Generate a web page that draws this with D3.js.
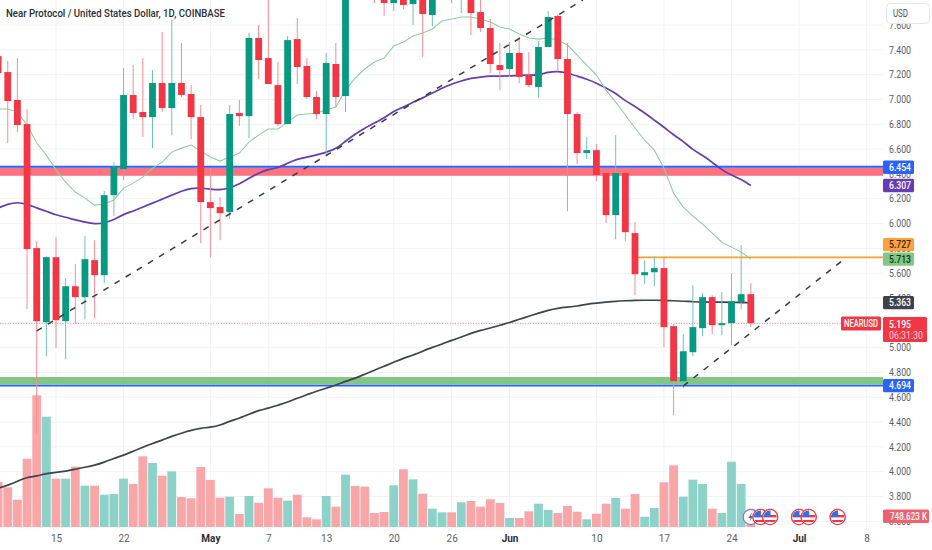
<!DOCTYPE html>
<html><head><meta charset="utf-8">
<script src="https://cdn.jsdelivr.net/npm/d3@7"></script>
<style>html,body{margin:0;padding:0;background:#fff}svg{display:block}text{font-family:Roboto,"Noto Sans",sans-serif}</style>
</head><body><svg id="c" width="932" height="550"></svg>
<script>
// Daily candles, first entry is 9 Apr (day -6 relative to 15 Apr)
const firstDay = -6;
const opens  = [7.350,7.221,6.996,6.802,5.802,5.205,5.729,5.213,5.495,5.407,5.705,5.584,6.229,6.439,7.036,6.899,6.858,7.133,6.931,7.133,7.044,6.858,6.173,6.133,6.092,6.891,6.866,7.496,7.334,7.116,6.802,7.487,7.270,7.020,6.883,7.286,7.028,8.286,8.125,8.004,7.883,7.778,7.923,7.770,7.883,7.681,7.883,7.963,7.826,7.826,7.705,7.576,7.278,7.246,7.375,7.197,7.100,7.423,7.673,7.326,6.883,6.568,6.592,6.407,6.068,6.407,5.923,5.584,5.608,5.641,5.173,4.729,4.963,5.157,5.407,5.181,5.197,5.366,5.431];
const highs  = [7.399,7.310,7.334,6.923,5.858,5.737,5.891,5.560,5.673,5.899,5.866,6.262,6.495,7.254,7.278,7.334,7.237,7.544,7.641,7.455,7.116,6.955,6.447,6.213,6.955,6.996,7.536,7.600,7.842,7.302,7.512,7.657,7.334,7.068,7.375,7.455,8.044,8.447,8.205,8.044,7.923,7.963,7.963,8.004,7.923,8.004,8.044,8.004,7.923,7.883,7.842,7.649,7.455,7.463,7.504,7.383,7.471,7.713,7.689,7.455,6.899,6.697,6.641,6.407,6.713,6.407,6.012,5.705,5.737,5.729,5.189,5.108,5.503,5.439,5.423,5.447,5.600,5.826,5.520];
const lows   = [7.157,6.649,6.737,5.310,4.310,4.931,4.995,4.907,5.197,5.229,5.237,5.520,6.060,6.350,6.842,6.697,6.608,6.899,6.713,7.020,6.681,5.842,5.729,5.866,6.036,6.786,6.689,7.165,7.125,6.786,6.802,7.125,7.004,6.842,6.552,6.939,6.899,7.883,7.842,7.778,7.673,7.713,7.729,7.600,7.342,7.592,7.842,7.778,7.697,7.520,7.544,7.213,7.076,7.181,7.133,7.100,7.012,7.423,7.237,6.100,6.479,6.520,6.342,6.004,5.874,5.858,5.423,5.512,5.495,5.003,4.455,4.673,4.931,5.092,5.108,5.100,5.020,5.310,5.165];
const closes = [7.213,6.987,6.794,5.794,5.213,5.729,5.221,5.495,5.407,5.713,5.584,6.229,6.455,7.036,6.891,6.858,7.133,6.931,7.133,7.036,6.858,6.173,6.125,6.084,6.883,6.866,7.496,7.318,7.125,6.802,7.479,7.262,7.020,6.883,7.294,7.020,7.963,7.963,7.883,7.842,7.778,7.923,7.762,7.963,7.689,7.963,8.004,7.842,7.883,7.697,7.576,7.286,7.237,7.375,7.181,7.116,7.423,7.665,7.326,6.883,6.568,6.592,6.391,6.068,6.407,5.931,5.592,5.608,5.641,5.165,4.729,4.971,5.165,5.407,5.181,5.197,5.374,5.431,5.197];
const volumesK = [11250,9925,6825,17075,32925,27575,12075,12075,15075,10325,10325,8075,8250,12075,10750,17675,16000,12825,13925,7500,7175,15000,11750,7325,7575,3250,7750,6075,9675,7325,6575,8075,2425,1925,7750,5075,13075,10250,10075,3500,3750,10425,14425,11925,8325,4575,3675,3675,6175,6500,5075,6925,6000,2250,2250,3925,5825,4250,3500,5250,3825,1925,3325,5825,7250,4575,8250,2575,4750,11175,15425,7575,11825,10750,4575,3500,16325,10750,748.623];
const emaFast = [6.923,6.923,6.899,6.794,6.649,6.552,6.431,6.334,6.254,6.205,6.149,6.157,6.189,6.286,6.326,6.374,6.447,6.495,6.576,6.608,6.633,6.584,6.536,6.504,6.536,6.568,6.657,6.713,6.762,6.762,6.818,6.875,6.883,6.891,6.915,6.939,7.076,7.173,7.246,7.302,7.334,7.431,7.463,7.512,7.536,7.568,7.633,7.649,7.665,7.665,7.649,7.625,7.584,7.568,7.528,7.496,7.487,7.496,7.479,7.439,7.358,7.278,7.197,7.076,6.979,6.875,6.770,6.673,6.592,6.447,6.245,6.133,6.060,5.995,5.923,5.850,5.810,5.770,5.713];
const emaMid = [6.125,6.157,6.173,6.157,6.125,6.100,6.068,6.052,6.028,6.012,5.995,6.004,6.028,6.076,6.100,6.133,6.165,6.197,6.229,6.262,6.286,6.286,6.278,6.270,6.286,6.318,6.366,6.407,6.439,6.447,6.487,6.520,6.536,6.552,6.576,6.600,6.665,6.721,6.770,6.810,6.850,6.907,6.939,6.979,7.012,7.052,7.092,7.125,7.149,7.173,7.181,7.189,7.189,7.189,7.197,7.197,7.197,7.221,7.229,7.213,7.189,7.165,7.133,7.092,7.052,6.987,6.947,6.891,6.834,6.778,6.713,6.665,6.592,6.552,6.495,6.431,6.391,6.358,6.307];
const emaSlow = [3.866,3.890,3.923,3.955,3.963,3.987,3.995,4.003,4.020,4.036,4.052,4.076,4.108,4.132,4.165,4.197,4.229,4.253,4.286,4.310,4.334,4.350,4.358,4.374,4.407,4.431,4.463,4.495,4.511,4.536,4.560,4.592,4.620,4.649,4.673,4.697,4.729,4.753,4.786,4.818,4.850,4.882,4.915,4.939,4.971,5.003,5.028,5.060,5.084,5.116,5.140,5.157,5.181,5.201,5.229,5.253,5.278,5.302,5.318,5.326,5.334,5.350,5.358,5.366,5.374,5.378,5.382,5.382,5.382,5.382,5.378,5.374,5.370,5.366,5.366,5.366,5.366,5.363,5.363];
const priceTicks = [3.6,3.8,4.0,4.2,4.4,4.6,4.8,5.0,5.2,5.4,5.6,5.8,6.0,6.2,6.4,6.6,6.8,7.0,7.2,7.4,7.6];
const timeTicks = [0,7,16,22,28,35,41,47,56,63,70,77,84];
const timeLabels = ["15","22","May","7","13","20","26","Jun","10","17","24","Jul","8"];
const monthLabels = ["May","Jun","Jul"];
const usEventDays = [73,74,77,78,81];
const splitEventDay = 72;
// drawings
const resistanceBand = [6.385,6.450];
const supportBand = [4.702,4.763];
const resistanceLine = 6.458, supportLine = 4.694, orangeLevel = 5.727, lastPrice = 5.195;
const trend1 = [[-2,5.135],[54.6,7.802]];
const trend2 = [[65,4.69],[81.9,5.727]];
const orangeStart = 60.3;
const valueTags = [
 {v:6.454,t:"6.454",bg:"#2962ff",fg:"#fff"},
 {v:6.307,t:"6.307",bg:"#673ab7",fg:"#fff"},
 {v:5.83,t:"5.727",bg:"#ffa03a",fg:"#3a2a12"},
 {v:5.713,t:"5.713",bg:"#81c784",fg:"#14301a"},
 {v:5.363,t:"5.363",bg:"#3f424d",fg:"#fff"},
 {v:4.694,t:"4.694",bg:"#2962ff",fg:"#fff"}
];

const W=932,H=550,PLOT_R=883,AXIS_B=530;
const svg=d3.select("#c");
const days=opens.map((_,i)=>i+firstDay);
const x=d3.scaleLinear().domain([0,70]).range([56,731.5]);
const y=d3.scaleLinear().domain([7,3.8]).range([99.5,496.5]);
const yv=d3.scaleLinear().domain([0,32750]).range([527,396]);
const GREEN="#089981",RED="#f23645";
const defs=svg.append("defs");
defs.append("clipPath").attr("id","plot").append("rect").attr("x",0).attr("y",0).attr("width",PLOT_R).attr("height",AXIS_B);
defs.append("clipPath").attr("id","flagclip").append("circle").attr("r",6.6);

// grid
const grid=svg.append("g");
grid.selectAll(".h").data(priceTicks).join("line").attr("x1",0).attr("x2",PLOT_R)
 .attr("y1",d=>y(d)).attr("y2",d=>y(d)).attr("stroke","#f2f3f6");
grid.selectAll(".v").data(timeTicks).join("line").attr("y1",0).attr("y2",AXIS_B)
 .attr("x1",d=>x(d)).attr("x2",d=>x(d)).attr("stroke","#f2f3f6");

const plot=svg.append("g").attr("clip-path","url(#plot)");
// volume
plot.selectAll(".vol").data(days).join("rect")
 .attr("x",d=>x(d)-4.4).attr("width",8.8)
 .attr("y",(d,i)=>yv(volumesK[i])).attr("height",(d,i)=>527-yv(volumesK[i]))
 .attr("fill",(d,i)=>closes[i]>=opens[i]?"#8cd2c8":"#f8a6a8");

// zones
plot.append("rect").attr("x",0).attr("width",PLOT_R).attr("y",y(resistanceBand[1])).attr("height",y(resistanceBand[0])-y(resistanceBand[1])).attr("fill","#fb7380");
plot.append("rect").attr("x",0).attr("width",PLOT_R).attr("y",y(supportBand[1])).attr("height",y(supportBand[0])-y(supportBand[1])).attr("fill","#81c784");
[resistanceLine,supportLine].forEach(v=>plot.append("line").attr("x1",0).attr("x2",PLOT_R).attr("y1",y(v)).attr("y2",y(v)).attr("stroke","#2962ff").attr("stroke-width",1.9));
plot.append("line").attr("x1",x(orangeStart)).attr("x2",PLOT_R).attr("y1",y(orangeLevel)).attr("y2",y(orangeLevel)).attr("stroke","#ff9f2e").attr("stroke-width",1.8);
plot.append("line").attr("x1",0).attr("x2",841).attr("y1",y(lastPrice)).attr("y2",y(lastPrice)).attr("stroke","#f58a94").attr("stroke-dasharray","1 1.6");

// moving averages
const line=d3.line().x((d,i)=>x(i+firstDay)).y(d=>y(d));
const smooth=d3.line().x((d,i)=>x(i+firstDay)).y(d=>y(d)).curve(d3.curveBasis);
plot.append("path").attr("d",smooth(emaSlow)).attr("fill","none").attr("stroke","#3f424f").attr("stroke-width",1.7);
plot.append("path").attr("d",smooth(emaMid)).attr("fill","none").attr("stroke","#673ab7").attr("stroke-width",1.7);
plot.append("path").attr("d",line(emaFast)).attr("fill","none").attr("stroke","#8dcfa0").attr("stroke-width",1.1);

// candles
plot.selectAll(".wick").data(days).join("line")
 .attr("x1",d=>x(d)).attr("x2",d=>x(d))
 .attr("y1",(d,i)=>y(highs[i])).attr("y2",(d,i)=>y(lows[i]))
 .attr("stroke",(d,i)=>closes[i]>=opens[i]?"#6cc4b4":"#f98a92").attr("stroke-width",1);
plot.selectAll(".body").data(days).join("rect")
 .attr("x",d=>x(d)-3.4).attr("width",6.8)
 .attr("y",(d,i)=>y(Math.max(opens[i],closes[i])))
 .attr("height",(d,i)=>Math.max(1.5,Math.abs(y(opens[i])-y(closes[i]))))
 .attr("fill",(d,i)=>closes[i]>=opens[i]?GREEN:RED);

// trend lines
[trend1,trend2].forEach(t=>plot.append("line")
 .attr("x1",x(t[0][0])).attr("y1",y(t[0][1])).attr("x2",x(t[1][0])).attr("y2",y(t[1][1]))
 .attr("stroke","#363a45").attr("stroke-width",1.5).attr("stroke-dasharray","6 7"));

// events
const sp=svg.append("g").attr("transform",`translate(${x(splitEventDay)},517)`);
sp.append("circle").attr("r",7.6).attr("fill","#fff").attr("stroke","#8e6fc6").attr("stroke-width",1.2);
sp.append("path").attr("d","M1.5,-5 L-2.5,1 L0,1 L-1.5,5 L2.5,-1 L0,-1 Z").attr("fill","#7e57c2");
const flags=svg.append("g").selectAll("g").data(usEventDays).join("g").attr("transform",d=>`translate(${x(d)},517)`);
flags.append("circle").attr("r",7.6).attr("fill","#fff").attr("stroke","#f23645").attr("stroke-width",1.4);
const fl=flags.append("g").attr("clip-path","url(#flagclip)");
fl.append("rect").attr("x",-7).attr("y",-7).attr("width",14).attr("height",14).attr("fill","#fff");
fl.append("rect").attr("x",-7).attr("y",-2).attr("width",14).attr("height",2.4).attr("fill","#f23645");
fl.append("rect").attr("x",-7).attr("y",3).attr("width",14).attr("height",2).attr("fill","#f23645");
fl.append("rect").attr("x",-7).attr("y",-7).attr("width",7.5).attr("height",7).attr("fill","#2f6fe8");

// axes
const axY=svg.append("g").attr("transform",`translate(889,0)`)
 .call(d3.axisRight(y).tickValues(priceTicks).tickSize(0).tickPadding(0).tickFormat(d3.format(".3f")));
axY.select(".domain").remove();
axY.selectAll("text").attr("font-size",10).attr("fill","#5b5e69").attr("font-family","Roboto,sans-serif").attr("textLength",22).attr("lengthAdjust","spacingAndGlyphs");
const axX=svg.append("g").attr("transform","translate(0,530)")
 .call(d3.axisBottom(x).tickValues(timeTicks).tickSize(0).tickPadding(5).tickFormat((d,i)=>timeLabels[i]));
axX.select(".domain").remove();
axX.selectAll("text").attr("font-size",10).attr("font-family","Roboto,sans-serif")
 .attr("fill",(d,i)=>monthLabels.includes(timeLabels[i])?"#2a2e39":"#5b5e69")
 .attr("font-weight",(d,i)=>monthLabels.includes(timeLabels[i])?700:400);

// tags
function tag(x0,yc,w,h,bg,fg,t,opts={}){
 svg.append("rect").attr("x",x0).attr("y",yc-h/2).attr("width",w).attr("height",h).attr("rx",1.5).attr("fill",bg);
 const e=svg.append("text").attr("x",x0+(opts.dx??6)).attr("y",yc+3.6).attr("font-size",10).attr("fill",fg).attr("font-weight",500).text(t);
 if(opts.len)e.attr("textLength",opts.len).attr("lengthAdjust","spacingAndGlyphs");
}
valueTags.forEach(d=>tag(883,y(d.v),31,13.4,d.bg,d.fg,d.t,{len:22}));
// NEARUSD + countdown
tag(841,323.5,40,14,"#f23645","#fff","NEARUSD",{dx:3,len:34});
svg.append("rect").attr("x",883).attr("y",317).attr("width",44).attr("height",25).attr("rx",1.5).attr("fill","#f23645");
svg.append("text").attr("x",889).attr("y",327.5).attr("font-size",10).attr("fill","#fff").attr("font-weight",500).attr("textLength",22).attr("lengthAdjust","spacingAndGlyphs").text("5.195");
svg.append("text").attr("x",889).attr("y",339).attr("font-size",10).attr("fill","#fbd4d7").attr("textLength",34).attr("lengthAdjust","spacingAndGlyphs").text("06:31:30");
// volume tag
svg.append("rect").attr("x",883).attr("y",509.5).attr("width",46).attr("height",13.5).attr("rx",1.5).attr("fill","#f0616d");
svg.append("text").attr("x",890).attr("y",519.8).attr("font-size",10).attr("fill","#fff").attr("font-weight",500).attr("textLength",37).attr("lengthAdjust","spacingAndGlyphs").text("748.623 K");
// USD button
svg.append("rect").attr("x",886.5).attr("y",3.5).attr("width",43).attr("height",20).attr("rx",4).attr("fill","#fff").attr("stroke","#e4e6ec");
svg.append("text").attr("x",893).attr("y",17).attr("font-size",10).attr("fill","#4a4d58").attr("textLength",15).attr("lengthAdjust","spacingAndGlyphs").text("USD");
// title
svg.append("text").attr("x",6).attr("y",16.5).attr("font-size",11.5).attr("font-weight",500).attr("fill","#2a2e39").attr("textLength",219).attr("lengthAdjust","spacingAndGlyphs").text("Near Protocol / United States Dollar, 1D, COINBASE");
</script></body></html>
